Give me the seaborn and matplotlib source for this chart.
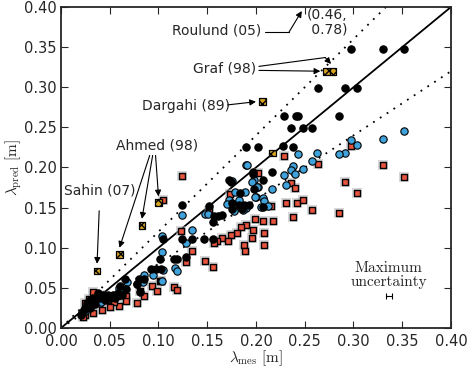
import numpy as np
import pandas as pd
import matplotlib
matplotlib.use('Agg')
import matplotlib.pyplot as plt
import seaborn as sns

black_x = [0.297, 0.330, 0.352, 0.264, 0.291, 0.304, 0.285, 0.229, 0.241, 0.243,
           0.236, 0.248, 0.257, 0.190, 0.202, 0.228, 0.238, 0.216, 0.207, 0.197,
           0.198, 0.207, 0.186, 0.124, 0.152, 0.157, 0.156, 0.161, 0.165, 0.172,
           0.174, 0.184, 0.175, 0.175, 0.183, 0.188, 0.193, 0.197, 0.105, 0.124,
           0.134, 0.147, 0.156, 0.102, 0.116, 0.119, 0.128, 0.092, 0.097, 0.103,
           0.080, 0.085, 0.066, 0.067, 0.081, 0.078, 0.058, 0.053, 0.048, 0.043,
           0.038, 0.033, 0.030, 0.027, 0.025, 0.022, 0.021, 0.035, 0.040, 0.045,
           0.050, 0.030, 0.024, 0.055, 0.063, 0.061]
black_y = [0.348, 0.348, 0.348, 0.299, 0.299, 0.299, 0.264, 0.264, 0.264, 0.264,
           0.249, 0.249, 0.249, 0.226, 0.226, 0.227, 0.226, 0.194, 0.184, 0.194,
           0.173, 0.151, 0.148, 0.153, 0.152, 0.139, 0.132, 0.140, 0.141, 0.184,
           0.182, 0.168, 0.156, 0.148, 0.153, 0.153, 0.153, 0.192, 0.111, 0.111,
           0.111, 0.111, 0.111, 0.086, 0.086, 0.086, 0.088, 0.074, 0.074, 0.074,
           0.061, 0.061, 0.061, 0.049, 0.045, 0.055, 0.044, 0.041, 0.041, 0.041,
           0.044, 0.037, 0.035, 0.031, 0.025, 0.020, 0.016, 0.030, 0.038, 0.035,
           0.038, 0.025, 0.022, 0.038, 0.041, 0.052]

blue_x = [0.352, 0.330, 0.297, 0.304, 0.291, 0.285, 0.263, 0.243, 0.257, 0.190,
          0.238, 0.236, 0.240, 0.248, 0.229, 0.216, 0.231, 0.202, 0.198, 0.189,
          0.200, 0.207, 0.208, 0.183, 0.190, 0.196, 0.201, 0.199, 0.212, 0.205,
          0.187, 0.177, 0.172, 0.170, 0.175, 0.178, 0.191, 0.148, 0.124, 0.134,
          0.128, 0.117, 0.119, 0.104, 0.104, 0.151, 0.085, 0.078, 0.059, 0.068,
          0.094, 0.040, 0.105, 0.104, 0.084, 0.062, 0.058, 0.041, 0.028, 0.033,
          0.048, 0.025]
blue_y = [0.245, 0.235, 0.234, 0.228, 0.218, 0.217, 0.218, 0.217, 0.208, 0.203,
          0.202, 0.197, 0.192, 0.198, 0.191, 0.173, 0.178, 0.176, 0.184, 0.170,
          0.163, 0.162, 0.158, 0.160, 0.150, 0.182, 0.176, 0.163, 0.152, 0.151,
          0.147, 0.146, 0.159, 0.155, 0.183, 0.170, 0.203, 0.142, 0.141, 0.122,
          0.106, 0.075, 0.071, 0.095, 0.115, 0.142, 0.066, 0.055, 0.050, 0.057,
          0.066, 0.031, 0.072, 0.058, 0.057, 0.046, 0.042, 0.032, 0.026, 0.030,
          0.040, 0.021]

red_x = [0.264, 0.330, 0.352, 0.291, 0.304, 0.236, 0.240, 0.231, 0.242, 0.248,
         0.257, 0.285, 0.238, 0.215, 0.199, 0.207, 0.217, 0.190, 0.185, 0.197,
         0.208, 0.196, 0.188, 0.189, 0.208, 0.202, 0.297, 0.229, 0.173, 0.152,
         0.123, 0.181, 0.174, 0.165, 0.160, 0.171, 0.157, 0.134, 0.128, 0.148,
         0.156, 0.116, 0.119, 0.102, 0.124, 0.105, 0.103, 0.093, 0.098, 0.085,
         0.081, 0.067, 0.067, 0.078, 0.059, 0.054, 0.050, 0.042, 0.033, 0.025,
         0.023, 0.033, 0.025, 0.029, 0.040, 0.057, 0.048]
red_y = [0.204, 0.203, 0.188, 0.182, 0.168, 0.181, 0.174, 0.156, 0.156, 0.160,
         0.147, 0.143, 0.138, 0.152, 0.136, 0.133, 0.133, 0.128, 0.126, 0.122,
         0.118, 0.112, 0.103, 0.096, 0.103, 0.193, 0.227, 0.214, 0.167, 0.146,
         0.121, 0.118, 0.116, 0.112, 0.108, 0.108, 0.106, 0.096, 0.082, 0.083,
         0.076, 0.051, 0.047, 0.059, 0.189, 0.160, 0.059, 0.052, 0.046, 0.040,
         0.046, 0.040, 0.034, 0.031, 0.027, 0.032, 0.026, 0.022, 0.019, 0.016,
         0.014, 0.045, 0.031, 0.036, 0.041, 0.040, 0.035]

# literature points
lit_x = [0.037, 0.060, 0.083, 0.100, 0.207, 0.272, 0.279, 0.217]
lit_y = [0.071, 0.092, 0.128, 0.156, 0.282, 0.320, 0.320, 0.218]

unc_x, unc_y, unc_err = 0.336, 0.040, 0.003

plt.rcParams['mathtext.fontset'] = 'cm'
sns.set_style('ticks')
plt.rcParams['font.family'] = ['DejaVu Sans']

fig = plt.figure(figsize=(4.67, 3.68), dpi=100)
ax = fig.add_axes([0.1306, 0.1087, 0.8351, 0.8723])

line = np.array([0, 0.4])
ax.plot(line, line, color='black', lw=1.3)
ax.plot(line, 1.2 * line, color='black', lw=1.3, ls=(0, (1, 3.5)))
ax.plot(line, 0.8 * line, color='black', lw=1.3, ls=(0, (1, 3.5)))

# grey halo behind the red squares
ax.scatter(red_x, red_y, marker='s', s=46, color='#b0b0b0', alpha=0.5,
           linewidth=0, zorder=2.9)
sns.scatterplot(x=red_x, y=red_y, marker='s', s=22, color='#e8553e',
                edgecolor='black', linewidth=1.0, ax=ax, zorder=3)
sns.scatterplot(x=blue_x, y=blue_y, marker='o', s=28, color='#3fa2db',
                edgecolor='black', linewidth=0.8, ax=ax, zorder=4)
sns.scatterplot(x=black_x, y=black_y, marker='o', s=28, color='black',
                edgecolor='black', linewidth=0.8, ax=ax, zorder=5)
ax.scatter(lit_x, lit_y, marker='s', s=24, facecolor='#d9a520',
           edgecolor='black', linewidth=0.9, hatch='xxxx', zorder=6)

ax.errorbar([unc_x], [unc_y], xerr=[unc_err], fmt='none', ecolor='black',
            elinewidth=0.8, capsize=2, capthick=0.8)
ax.text(unc_x, 0.066, 'Maximum\nuncertainty', ha='center', va='center',
        fontsize=11, family='cmr10', linespacing=1.0)

arrow = dict(arrowstyle='-|>', color='black', lw=0.8, mutation_scale=9,
             shrinkA=0, shrinkB=0)
fs = 10
ax.annotate('Sahin (07)', xy=(0.037, 0.080), xytext=(0.040, 0.171),
            ha='center', va='center', fontsize=fs,
            arrowprops=dict(arrow, shrinkA=7))
ahmed_tips = [(0.060, 0.100), (0.083, 0.136), (0.100, 0.164)]
ax.text(0.099, 0.227, 'Ahmed (98)', ha='center', va='center', fontsize=fs)
for (tx, ty), sx in zip(ahmed_tips, [0.091, 0.094, 0.097]):
    ax.annotate('', xy=(tx, ty), xytext=(sx, 0.215), arrowprops=arrow)
ax.text(0.128, 0.277, 'Dargahi (89)', ha='center', va='center', fontsize=fs)
ax.annotate('', xy=(0.200, 0.282), xytext=(0.171, 0.278), arrowprops=arrow)

ax.text(0.168, 0.323, 'Graf (98)', ha='center', va='center', fontsize=fs)
ax.annotate('', xy=(0.266, 0.320), xytext=(0.203, 0.321), arrowprops=arrow)
ax.plot([0.203, 0.271], [0.326, 0.337], color='black', lw=0.8)
ax.annotate('', xy=(0.277, 0.329), xytext=(0.271, 0.337), arrowprops=arrow)

ax.text(0.160, 0.371, 'Roulund (05)', ha='center', va='center', fontsize=fs)
ax.plot([0.209, 0.234], [0.369, 0.369], color='black', lw=0.8)
ax.annotate('', xy=(0.247, 0.395), xytext=(0.234, 0.369), arrowprops=arrow)
ax.text(0.252, 0.381, '(0.46,\n 0.78)', ha='left', va='center', fontsize=fs,
        linespacing=1.0)

ticks = np.arange(0, 0.401, 0.05)
tick_labels = ['0.00', '0.05', '0.10', '0.15', '0.20', '0.25', '0.30', '0.35', '0.40']
ax.set_xlim(0, 0.4)
ax.set_ylim(0, 0.4)
ax.set_xticks(ticks)
ax.set_yticks(ticks)
ax.set_xticklabels(tick_labels, fontsize=10.5)
ax.set_yticklabels(tick_labels, fontsize=10.5)
ax.tick_params(direction='in', length=5, width=0.8, top=True, right=True)
ax.tick_params(axis='x', pad=4)
ax.tick_params(axis='y', pad=3)
for sp in ax.spines.values():
    sp.set_linewidth(1.3)
    sp.set_visible(True)
ax.set_xlabel(r'$\lambda_{\rm mes}\ [\rm m]$', fontsize=11, labelpad=0)
ax.set_ylabel(r'$\lambda_{\rm pred}\ [\rm m]$', fontsize=11, labelpad=0)

fig.savefig('out.png', dpi=100)
